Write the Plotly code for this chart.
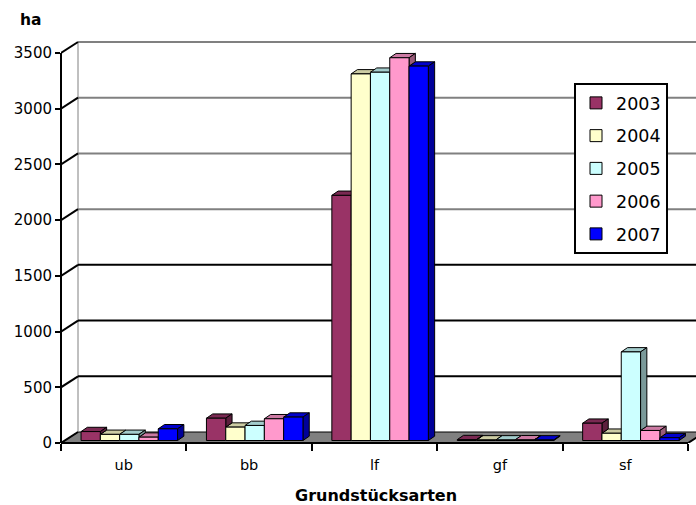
import plotly.graph_objects as go

# ---- data -------------------------------------------------------------
categories = ["ub", "bb", "lf", "gf", "sf"]
years = ["2003", "2004", "2005", "2006", "2007"]

ha_2003 = [80, 200, 2200, 8, 155]
ha_2004 = [55, 120, 3290, 5, 65]
ha_2005 = [55, 135, 3305, 5, 795]
ha_2006 = [30, 195, 3435, 6, 90]
ha_2007 = [105, 210, 3360, 5, 25]

y_ticks = [0, 500, 1000, 1500, 2000, 2500, 3000, 3500]

series = [ha_2003, ha_2004, ha_2005, ha_2006, ha_2007]

# front / top / side shades of every series (pseudo 3-D columns)
front_colors = ["#993366", "#FFFFCC", "#CCFFFF", "#FF99CC", "#0000FF"]
top_colors = ["#7A2952", "#CCCCA3", "#A3CCCC", "#CC7AA3", "#0000CC"]
side_colors = ["#5C1F3D", "#99997A", "#7A9999", "#995C7A", "#000099"]

FONT = "DejaVu Sans"

# ---- geometry ---------------------------------------------------------
W, H = 696, 505
M_L, M_T, M_B = 61, 36, 62
PLOT_W, PLOT_H = W - M_L, H - M_T - M_B
CAT_PX = 125.4                    # pixels per category
PX_PER_HA = 390 / 3500            # pixels per hectare on the front plane

WALL_DX = 17 / CAT_PX             # depth offset of the back wall
WALL_DY = 11 / PX_PER_HA
BAR_W = 19.3 / CAT_PX             # width of a single column
GROUP_LEFT = -2.5 * BAR_W + 5.6 / CAT_PX
BAR_BASE = 2.5 / PX_PER_HA        # columns stand a little inside the floor
BAR_DX = 6.3 / CAT_PX             # column depth
BAR_DY = 4.3 / PX_PER_HA

X_MIN = -0.5
X_MAX = X_MIN + PLOT_W / CAT_PX
X_END = len(categories) - 0.5
Y_MAX = PLOT_H / PX_PER_HA
TOP_TICK = y_ticks[-1]


def poly(points):
    return "M " + " L ".join(f"{x},{y}" for x, y in points) + " Z"


def paper_x(px):
    return (px - M_L) / PLOT_W


def paper_y(py):
    return (H - M_B - py) / PLOT_H


shapes = []

# floor
shapes.append(dict(
    type="path", xref="x", yref="y", layer="below",
    path=poly([(X_MIN, 0), (X_END, 0), (X_END + WALL_DX, WALL_DY),
               (X_MIN + WALL_DX, WALL_DY)]),
    fillcolor="#808080", line=dict(color="black", width=1)))

# back wall: left edge and grid lines
shapes.append(dict(
    type="line", xref="x", yref="y", layer="below",
    x0=X_MIN + WALL_DX, x1=X_MIN + WALL_DX,
    y0=WALL_DY, y1=TOP_TICK + WALL_DY,
    line=dict(color="#808080", width=1)))
for k in y_ticks[1:]:
    shapes.append(dict(
        type="line", xref="x", yref="y", layer="below",
        x0=X_MIN + WALL_DX, x1=X_END + WALL_DX + 1,
        y0=k + WALL_DY, y1=k + WALL_DY,
        line=dict(color="black" if k <= 1500 else "#808080", width=2)))

# side wall: diagonals from the value axis to the back wall
for k in y_ticks:
    shapes.append(dict(
        type="line", xref="x", yref="y", layer="below",
        x0=X_MIN, x1=X_MIN + WALL_DX, y0=k, y1=k + WALL_DY,
        line=dict(color="black", width=2)))

# column tops
for ci in range(len(categories)):
    for si, vals in enumerate(series):
        x0 = ci + GROUP_LEFT + si * BAR_W
        x1 = x0 + BAR_W
        top = BAR_BASE + vals[ci]
        shapes.append(dict(
            type="path", xref="x", yref="y", layer="below",
            path=poly([(x0, top), (x1, top), (x1 + BAR_DX, top + BAR_DY),
                       (x0 + BAR_DX, top + BAR_DY)]),
            fillcolor=top_colors[si], line=dict(color="black", width=1)))

# column sides (only the part that rises above the neighbour)
for ci in range(len(categories)):
    for si, vals in enumerate(series):
        x1 = ci + GROUP_LEFT + (si + 1) * BAR_W
        hi = BAR_BASE + vals[ci]
        lo = BAR_BASE + (series[si + 1][ci] if si + 1 < len(series) else 0)
        if hi <= lo:
            continue
        shapes.append(dict(
            type="path", xref="x", yref="y", layer="below",
            path=poly([(x1, lo), (x1, hi), (x1 + BAR_DX, hi + BAR_DY),
                       (x1 + BAR_DX, lo + BAR_DY)]),
            fillcolor=side_colors[si], line=dict(color="black", width=1)))

# front axis lines
shapes.append(dict(
    type="line", xref="paper", yref="y", layer="above",
    x0=0, x1=0, y0=0, y1=TOP_TICK, line=dict(color="black", width=2)))
shapes.append(dict(
    type="line", xref="x", yref="paper", layer="above",
    x0=X_MIN, x1=X_END, y0=0, y1=0, line=dict(color="black", width=2)))
shapes.append(dict(
    type="line", xref="x", yref="y", layer="above",
    x0=X_END, x1=X_END + WALL_DX, y0=0, y1=WALL_DY,
    line=dict(color="black", width=2)))

# ---- figure -----------------------------------------------------------
fig = go.Figure()
for si, (year, vals) in enumerate(zip(years, series)):
    fig.add_trace(go.Bar(
        x=categories, y=vals, base=BAR_BASE, name=year, legendgroup=year,
        offset=GROUP_LEFT + si * BAR_W, width=BAR_W,
        marker=dict(color=front_colors[si], line=dict(color="black", width=1)),
    ))

fig.update_layout(
    width=W, height=H, autosize=False,
    margin=dict(l=M_L, r=0, t=M_T, b=M_B, pad=0),
    paper_bgcolor="white", plot_bgcolor="white",
    font=dict(family=FONT, color="black"),
    barmode="overlay",
    shapes=shapes,
    showlegend=True,
    legend=dict(
        x=paper_x(574), y=paper_y(83),
        xanchor="left", yanchor="top",
        bgcolor="white", bordercolor="black", borderwidth=2,
        font=dict(family=FONT, size=17.5, color="black"),
        tracegroupgap=7, traceorder="grouped",
    ),
    xaxis=dict(
        type="category", categoryorder="array", categoryarray=categories,
        range=[X_MIN, X_MAX], tickson="boundaries", automargin=False,
        ticks="outside", ticklen=7, tickwidth=2, tickcolor="black",
        showline=False, showgrid=False, zeroline=False,
        tickfont=dict(family=FONT, size=14.5, color="black"),
        ticklabelstandoff=11,
    ),
    yaxis=dict(
        range=[0, Y_MAX], tickmode="array", tickvals=y_ticks,
        automargin=False,
        ticks="outside", ticklen=5, tickwidth=2, tickcolor="black",
        showline=False, showgrid=False, zeroline=False,
        tickfont=dict(family=FONT, size=15, color="black"),
    ),
    annotations=[
        dict(text="ha", xref="paper", yref="paper", showarrow=False,
             x=paper_x(18), y=paper_y(20),
             xanchor="left", yanchor="middle",
             font=dict(family=FONT, size=15.5, color="black",
                       weight="bold")),
        dict(text="Grundstücksarten", xref="paper", yref="paper",
             showarrow=False, x=paper_x(376), y=paper_y(495),
             xanchor="center", yanchor="middle",
             font=dict(family=FONT, size=16, color="black", weight="bold")),
    ],
)

fig.write_html("out.html")
